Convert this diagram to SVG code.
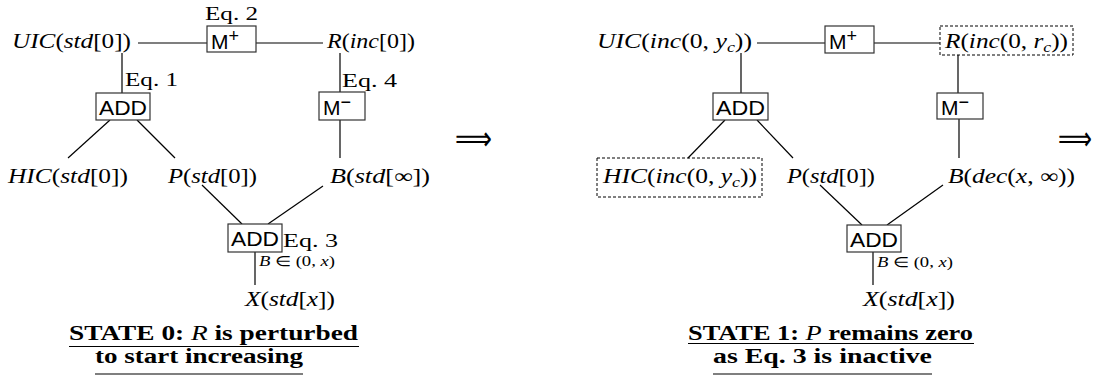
<svg xmlns="http://www.w3.org/2000/svg" width="1106" height="382" viewBox="0 0 1106 382">
<style>
.m{font-family:"Liberation Serif",serif;font-size:20px;fill:#000}
.i{font-style:italic}
.sub{font-size:14px;font-style:italic}
.sm{font-family:"Liberation Serif",serif;font-size:14px;fill:#000}
.eq{font-family:"Liberation Serif",serif;font-size:19px;fill:#000}
.s{font-family:"Liberation Sans","DejaVu Sans",sans-serif;font-size:21px;fill:#000}
.sup{font-size:18px}
.box{fill:#fff;stroke:#333;stroke-width:1.2}
.dash{fill:none;stroke:#000;stroke-width:1;stroke-dasharray:3 2}
.ln{stroke:#000;stroke-width:1.2;fill:none}
.t{font-family:"Liberation Serif",serif;font-size:20px;font-weight:bold;fill:#000}
.ul{stroke:#000;stroke-width:1.2}
.arr{font-family:"DejaVu Sans",sans-serif;font-size:34px;fill:#000}
</style>

<g id="connectors">
  <line class="ln" x1="138" y1="43" x2="207" y2="43"/>
  <line class="ln" x1="256" y1="43" x2="323" y2="43"/>
  <line class="ln" x1="122" y1="53" x2="122" y2="93"/>
  <line class="ln" x1="340" y1="53" x2="340" y2="92"/>
  <line class="ln" x1="340" y1="120" x2="340" y2="158"/>
  <line class="ln" x1="110" y1="120" x2="68" y2="158"/>
  <line class="ln" x1="137" y1="120" x2="175" y2="158"/>
  <line class="ln" x1="202" y1="185" x2="242" y2="224"/>
  <line class="ln" x1="323" y1="186" x2="268" y2="224"/>
  <line class="ln" x1="255" y1="252" x2="255" y2="285"/>

  <line class="ln" x1="757" y1="43" x2="825" y2="43"/>
  <line class="ln" x1="874" y1="43" x2="940" y2="43"/>
  <line class="ln" x1="741" y1="53" x2="741" y2="93"/>
  <line class="ln" x1="958" y1="55" x2="958" y2="93"/>
  <line class="ln" x1="959" y1="119" x2="959" y2="158"/>
  <line class="ln" x1="725" y1="120" x2="688" y2="158"/>
  <line class="ln" x1="757" y1="120" x2="793" y2="158"/>
  <line class="ln" x1="820" y1="185" x2="862" y2="225"/>
  <line class="ln" x1="943" y1="185" x2="887" y2="225"/>
  <line class="ln" x1="873" y1="252" x2="873" y2="285"/>
</g>

<!-- STATE 0 -->
<g id="s0-uic"><text class="m" x="12" y="48" textLength="119" lengthAdjust="spacingAndGlyphs"><tspan class="i">UIC</tspan>(<tspan class="i">std</tspan>[0])</text></g>
<g id="s0-mplus"><rect class="box" x="207" y="26" width="49" height="26"/><text class="s" x="211" y="49">M<tspan class="sup" dy="-7">+</tspan></text><text class="eq" x="205" y="20" textLength="53" lengthAdjust="spacingAndGlyphs">Eq. 2</text></g>
<g id="s0-r"><text class="m" x="327" y="48" textLength="88" lengthAdjust="spacingAndGlyphs"><tspan class="i">R</tspan>(<tspan class="i">inc</tspan>[0])</text></g>
<g id="s0-add1"><rect class="box" x="96" y="93" width="54" height="27"/><text class="s" x="99" y="115" textLength="48" lengthAdjust="spacingAndGlyphs">ADD</text><text class="eq" x="125" y="86" textLength="53" lengthAdjust="spacingAndGlyphs">Eq. 1</text></g>
<g id="s0-mminus"><rect class="box" x="319" y="92" width="46" height="28"/><text class="s" x="323" y="115">M<tspan class="sup" dy="-7">−</tspan></text><text class="eq" x="342" y="87" textLength="55" lengthAdjust="spacingAndGlyphs">Eq. 4</text></g>
<g id="s0-hic"><text class="m" x="8" y="183" textLength="120" lengthAdjust="spacingAndGlyphs"><tspan class="i">HIC</tspan>(<tspan class="i">std</tspan>[0])</text></g>
<g id="s0-p"><text class="m" x="168" y="183" textLength="89" lengthAdjust="spacingAndGlyphs"><tspan class="i">P</tspan>(<tspan class="i">std</tspan>[0])</text></g>
<g id="s0-b"><text class="m" x="330" y="183" textLength="100" lengthAdjust="spacingAndGlyphs"><tspan class="i">B</tspan>(<tspan class="i">std</tspan>[∞])</text></g>
<g id="s0-add2"><rect class="box" x="228" y="224" width="54" height="28"/><text class="s" x="231" y="246" textLength="48" lengthAdjust="spacingAndGlyphs">ADD</text><text class="eq" x="283" y="247" textLength="55" lengthAdjust="spacingAndGlyphs">Eq. 3</text><text class="sm" x="259" y="266" textLength="76" lengthAdjust="spacingAndGlyphs"><tspan class="i">B</tspan> ∈ (0, <tspan class="i">x</tspan>)</text></g>
<g id="s0-x"><text class="m" x="245" y="306" textLength="90" lengthAdjust="spacingAndGlyphs"><tspan class="i">X</tspan>(<tspan class="i">std</tspan>[<tspan class="i">x</tspan>])</text></g>
<g id="s0-title">
  <text class="t" x="69" y="340" textLength="289" lengthAdjust="spacingAndGlyphs">STATE 0: <tspan font-weight="normal" font-style="italic">R</tspan> is perturbed</text>
  <line class="ul" x1="69" y1="346.5" x2="359" y2="346.5"/>
  <text class="t" x="95" y="363" textLength="208" lengthAdjust="spacingAndGlyphs">to start increasing</text>
  <line class="ul" x1="95" y1="374" x2="303" y2="374"/>
</g>
<g id="arrow0"><text class="arr" x="455" y="150" textLength="37" lengthAdjust="spacingAndGlyphs">⟹</text></g>

<!-- STATE 1 -->
<g id="s1-uic"><text class="m" x="597" y="48" textLength="155" lengthAdjust="spacingAndGlyphs"><tspan class="i">UIC</tspan>(<tspan class="i">inc</tspan>(0, <tspan class="i">y</tspan><tspan class="sub" dy="4">c</tspan><tspan dy="-4">))</tspan></text></g>
<g id="s1-mplus"><rect class="box" x="825" y="26" width="49" height="27"/><text class="s" x="829" y="49">M<tspan class="sup" dy="-7">+</tspan></text></g>
<g id="s1-r"><rect class="dash" x="940" y="26" width="133" height="29"/><text class="m" x="945" y="48" textLength="123" lengthAdjust="spacingAndGlyphs"><tspan class="i">R</tspan>(<tspan class="i">inc</tspan>(0, <tspan class="i">r</tspan><tspan class="sub" dy="4">c</tspan><tspan dy="-4">))</tspan></text></g>
<g id="s1-add1"><rect class="box" x="713" y="93" width="55" height="27"/><text class="s" x="716" y="115" textLength="49" lengthAdjust="spacingAndGlyphs">ADD</text></g>
<g id="s1-mminus"><rect class="box" x="937" y="93" width="46" height="26"/><text class="s" x="941" y="115">M<tspan class="sup" dy="-7">−</tspan></text></g>
<g id="s1-hic"><rect class="dash" x="597" y="158" width="165" height="39"/><text class="m" x="603" y="183" textLength="154" lengthAdjust="spacingAndGlyphs"><tspan class="i">HIC</tspan>(<tspan class="i">inc</tspan>(0, <tspan class="i">y</tspan><tspan class="sub" dy="4">c</tspan><tspan dy="-4">))</tspan></text></g>
<g id="s1-p"><text class="m" x="787" y="183" textLength="88" lengthAdjust="spacingAndGlyphs"><tspan class="i">P</tspan>(<tspan class="i">std</tspan>[0])</text></g>
<g id="s1-b"><text class="m" x="948" y="183" textLength="127" lengthAdjust="spacingAndGlyphs"><tspan class="i">B</tspan>(<tspan class="i">dec</tspan>(<tspan class="i">x</tspan>, ∞))</text></g>
<g id="s1-add2"><rect class="box" x="847" y="225" width="54" height="27"/><text class="s" x="850" y="247" textLength="48" lengthAdjust="spacingAndGlyphs">ADD</text><text class="sm" x="877" y="267" textLength="76" lengthAdjust="spacingAndGlyphs"><tspan class="i">B</tspan> ∈ (0, <tspan class="i">x</tspan>)</text></g>
<g id="s1-x"><text class="m" x="863" y="306" textLength="92" lengthAdjust="spacingAndGlyphs"><tspan class="i">X</tspan>(<tspan class="i">std</tspan>[<tspan class="i">x</tspan>])</text></g>
<g id="s1-title">
  <text class="t" x="688" y="340" textLength="285" lengthAdjust="spacingAndGlyphs">STATE 1: <tspan font-weight="normal" font-style="italic">P</tspan> remains zero</text>
  <line class="ul" x1="688" y1="343.5" x2="974" y2="343.5"/>
  <text class="t" x="713" y="363" textLength="219" lengthAdjust="spacingAndGlyphs">as Eq. 3 is inactive</text>
  <line class="ul" x1="713" y1="374" x2="932" y2="374"/>
</g>
<g id="arrow1"><text class="arr" x="1058" y="150" textLength="34" lengthAdjust="spacingAndGlyphs">⟹</text></g>
</svg>
